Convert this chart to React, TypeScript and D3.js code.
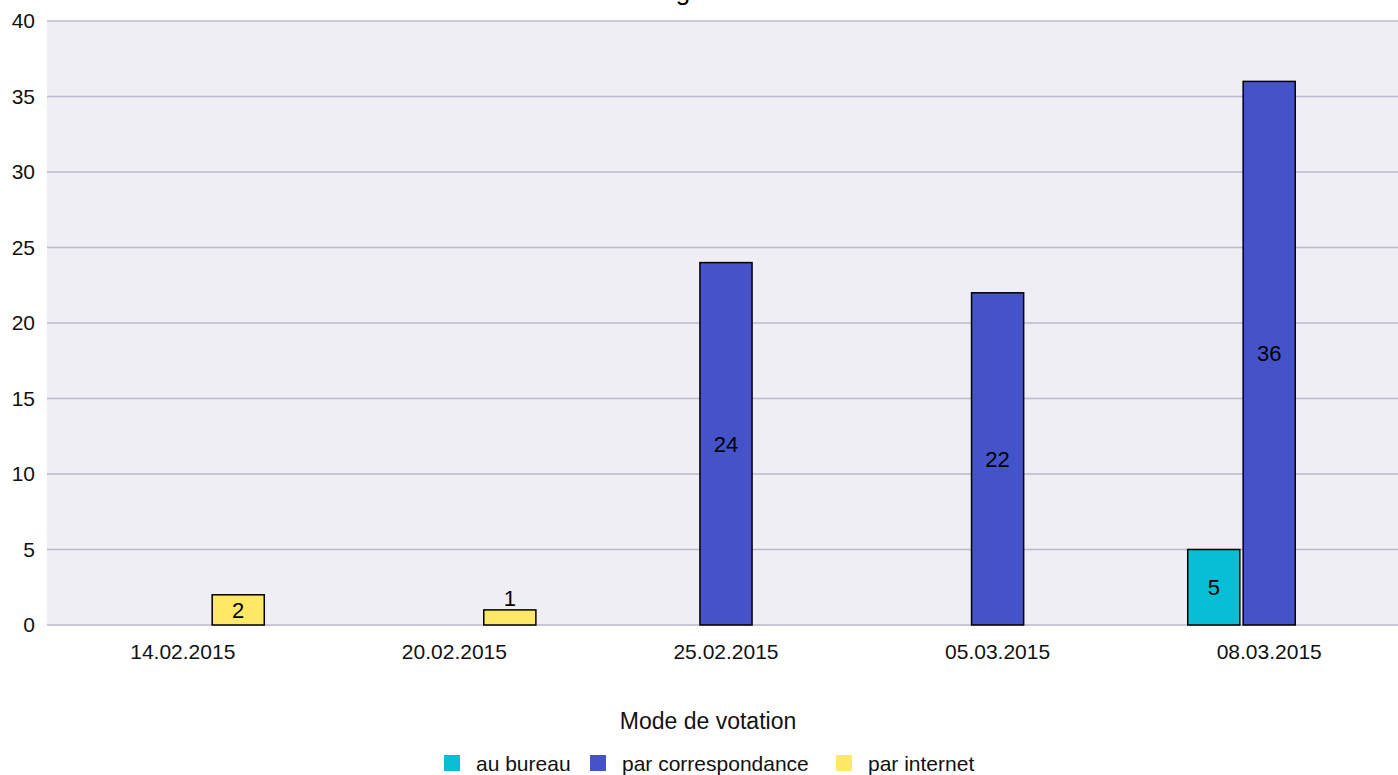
import React from "react";
import * as d3 from "d3";

const categories = ["14.02.2015", "20.02.2015", "25.02.2015", "05.03.2015", "08.03.2015"];
const series = ["au bureau", "par correspondance", "par internet"];
const auBureau = [0, 0, 0, 0, 5];
const parCorrespondance = [0, 0, 24, 22, 36];
const parInternet = [2, 1, 0, 0, 0];
const yTicks = [0, 5, 10, 15, 20, 25, 30, 35, 40];
const colors = ["#08bed4", "#4454c8", "#ffe866"];
const legendTitle = "Mode de votation";
const titleFragment = "g";

const W = 1398, H = 775;
const FONT = "'Liberation Sans', Arial, sans-serif";

export default function App() {
  const values = [auBureau, parCorrespondance, parInternet];
  const left = 47, right = 1405, top = 21, bottom = 625;
  const x0 = d3.scaleBand<string>().domain(categories).range([left, right]).paddingInner(0.4).paddingOuter(0.2);
  const x1 = d3.scaleBand<string>().domain(series).range([0, x0.bandwidth()]).paddingInner(0.06);
  const y = d3.scaleLinear().domain([0, 40]).range([bottom, top]);

  const legendItems = [
    { sq: 444, tx: 476 },
    { sq: 590, tx: 622 },
    { sq: 836, tx: 868 },
  ];

  return (
    <div style={{ position: "absolute", left: 0, top: 0 }}>
      <svg width={W} height={H} style={{ display: "block", fontFamily: FONT }}>
        <rect x={0} y={0} width={W} height={H} fill="#ffffff" />
        <text x={683} y={-0.5} textAnchor="middle" fontSize={26} fill="#000">{titleFragment}</text>
        <rect x={left} y={top} width={right - left} height={bottom - top} fill="#efeef4" />
        {yTicks.map((t) => (
          <g key={t}>
            <line x1={left} x2={right} y1={y(t)} y2={y(t)} stroke="#b9b8cd" strokeWidth={1.5} />
            <text x={35} y={y(t)} dy="0.35em" textAnchor="end" fontSize={21} fill="#111">{t}</text>
          </g>
        ))}
        {categories.map((c, ci) => (
          <g key={c}>
            {series.map((s, si) => {
              const v = values[si][ci];
              if (!v) return null;
              const bx = (x0(c) as number) + (x1(s) as number);
              const bw = x1.bandwidth();
              const by = y(v);
              const bh = y(0) - y(v);
              const inside = bh > 24;
              return (
                <g key={s}>
                  <rect x={bx} y={by} width={bw} height={bh} fill={colors[si]} stroke="#000" strokeWidth={1.5} />
                  <text x={bx + bw / 2} y={inside ? by + bh / 2 : by - 4} dy={inside ? "0.36em" : "0"} textAnchor="middle" fontSize={22} fill="#000">{v}</text>
                </g>
              );
            })}
            <text x={(x0(c) as number) + x0.bandwidth() / 2} y={651} dy="0.36em" textAnchor="middle" fontSize={21} fill="#111">{c}</text>
          </g>
        ))}
        <text x={708} y={721} dy="0.36em" textAnchor="middle" fontSize={23} fill="#111">{legendTitle}</text>
        {series.map((s, i) => (
          <g key={s}>
            <rect x={legendItems[i].sq} y={755} width={16} height={16} fill={colors[i]} />
            <text x={legendItems[i].tx} y={763} dy="0.36em" fontSize={21} fill="#111">{s}</text>
          </g>
        ))}
      </svg>
    </div>
  );
}
